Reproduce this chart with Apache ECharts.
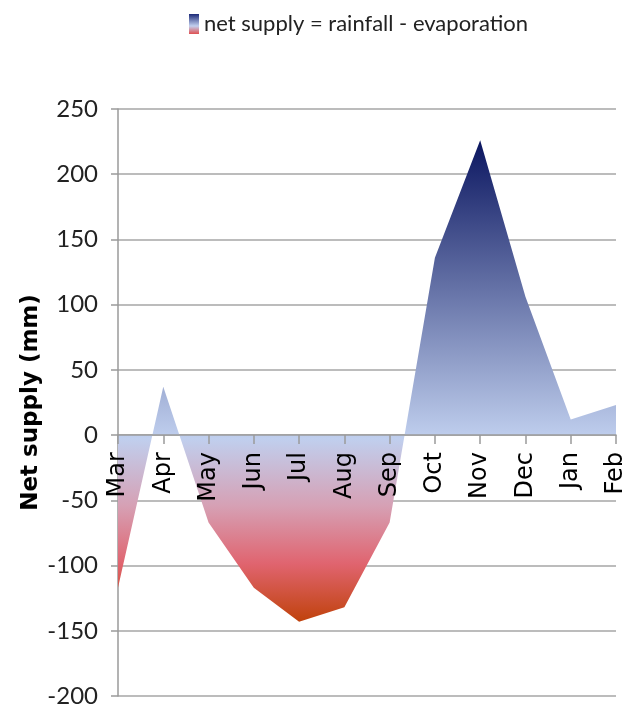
<!DOCTYPE html>
<html>
<head>
<meta charset="utf-8">
<script src="https://cdn.jsdelivr.net/npm/echarts@6/dist/echarts.min.js"></script>
<style>
  html, body { margin: 0; padding: 0; background: #fff; }
  #chart { width: 631px; height: 707px; }
</style>
</head>
<body>
<div id="chart"></div>
<script>
const months = ["Mar", "Apr", "May", "Jun", "Jul", "Aug", "Sep", "Oct", "Nov", "Dec", "Jan", "Feb"];
const netSupply = [-117, 37, -67, -117, -143, -132, -67, 136, 226, 106, 12, 23];
const yTicks = [-200, -150, -100, -50, 0, 50, 100, 150, 200, 250];

const chart = echarts.init(document.getElementById("chart"));

// top of fill is navy, light blue round zero, red/orange at the bottom
const fill = new echarts.graphic.LinearGradient(0, 0, 0, 1, [
  { offset: 0, color: "#0b1660" },
  { offset: 0.62, color: "#c0cfee" },
  { offset: 0.76, color: "#d6a0b4" },
  { offset: 0.88, color: "#e0646f" },
  { offset: 1, color: "#c0420c" },
]);
const legendFill = new echarts.graphic.LinearGradient(0, 0, 0, 1, [
  { offset: 0, color: "#1c2a78" },
  { offset: 0.6, color: "#c2d0ef" },
  { offset: 1, color: "#e05050" },
]);

const option = {
  backgroundColor: "#fff",
  animation: false,
  legend: {
    top: 8,
    left: 184,
    icon: "rect",
    itemWidth: 10,
    itemHeight: 20,
    itemGap: 8,
    textStyle: { fontFamily: "Lato", fontSize: 22, color: "#222" },
    data: [{ name: "net supply = rainfall - evaporation", itemStyle: { color: legendFill } }],
  },
  grid: { left: 118, right: 15, top: 109, bottom: 11, outerBoundsMode: "none" },
  xAxis: {
    type: "category",
    data: months,
    boundaryGap: false,
    z: 3,
    offset: 0,
    axisLine: { onZero: false, lineStyle: { color: "#9a9a9a", width: 1.5 } },
    axisTick: { show: true, length: 9, lineStyle: { color: "#9a9a9a", width: 1.5 } },
    axisLabel: {
      interval: 0,
      rotate: 90,
      margin: 17,
      fontFamily: "DejaVu Sans",
      fontSize: 24,
      color: "#000",
    },
    splitLine: { show: false },
  },
  yAxis: {
    type: "value",
    min: yTicks[0],
    max: yTicks[yTicks.length - 1],
    interval: 50,
    name: "Net supply (mm)",
    nameLocation: "middle",
    nameGap: 75,
    nameMoveOverlap: false,
    nameTextStyle: { fontFamily: "DejaVu Sans", fontWeight: "bold", fontSize: 23, color: "#000" },
    axisLine: { show: true, lineStyle: { color: "#9a9a9a", width: 1.5 } },
    axisTick: { show: true, length: 7, lineStyle: { color: "#9a9a9a", width: 1.5 } },
    axisLabel: { margin: 20, fontFamily: "Lato", fontSize: 24, color: "#222" },
    splitLine: { lineStyle: { color: "#a6a6a6", width: 1.5 } },
  },
  series: [
    {
      name: "net supply = rainfall - evaporation",
      type: "line",
      data: netSupply,
      symbol: "none",
      smooth: false,
      lineStyle: { width: 0 },
      itemStyle: { color: legendFill },
      areaStyle: { color: fill, opacity: 1 },
    },
  ],
};

chart.setOption(option);

// v6 leaves labels at the grid bottom with onZero, so lift the whole x axis to y = 0
const zeroY = chart.convertToPixel({ yAxisIndex: 0 }, 0);
const bottomY = chart.convertToPixel({ yAxisIndex: 0 }, yTicks[0]);
chart.setOption({ xAxis: { offset: zeroY - bottomY } });
</script>
</body>
</html>
